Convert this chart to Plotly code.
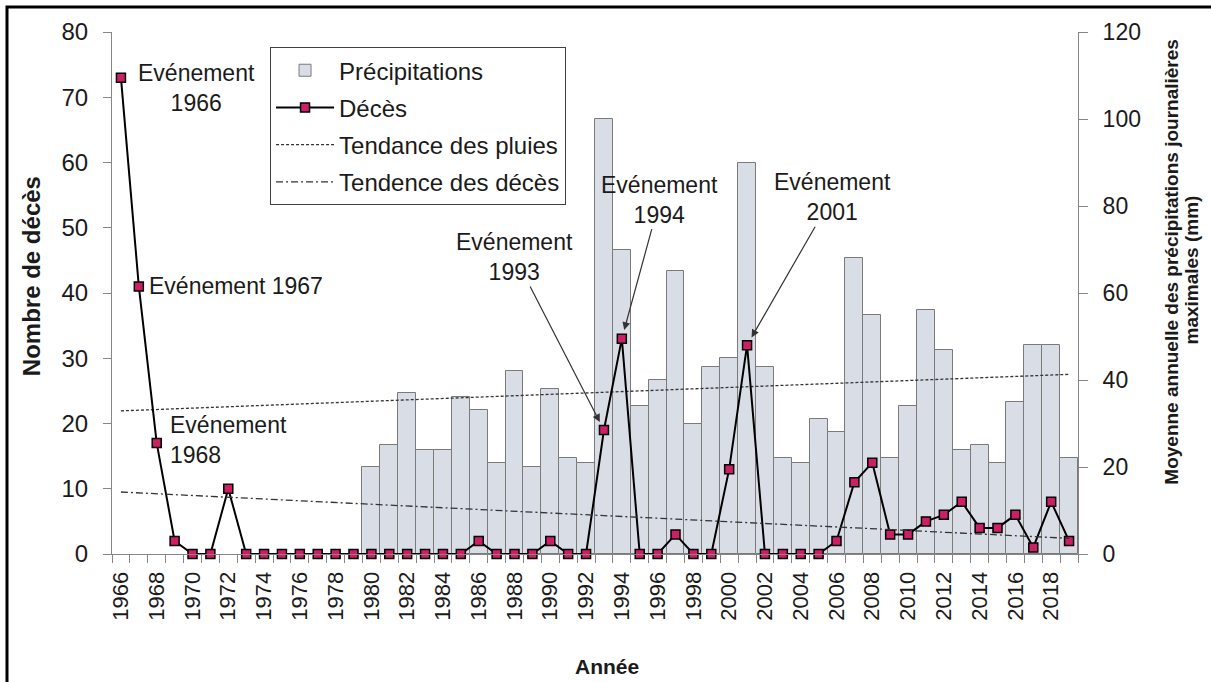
import plotly.graph_objects as go

# Décès par année (axe de gauche)
years = list(range(1966, 2020))
deaths = [73, 41, 17, 2, 0, 0, 10, 0, 0, 0,
          0, 0, 0, 0, 0, 0, 0, 0, 0, 0,
          2, 0, 0, 0, 2, 0, 0, 19, 33, 0,
          0, 3, 0, 0, 13, 32, 0, 0, 0, 0,
          2, 11, 14, 3, 3, 5, 6, 8, 4, 4,
          6, 1, 8, 2]

# Moyenne annuelle des précipitations journalières maximales (mm, axe de droite)
rain_years = list(range(1980, 2020))
rain = [20, 25, 37, 24, 24, 36, 33, 21, 42, 20,
        38, 22, 21, 100, 70, 34, 40, 65, 30, 43,
        45, 90, 43, 22, 21, 31, 28, 68, 55, 22,
        34, 56, 47, 24, 25, 21, 35, 48, 48, 22]

# Droites de tendance (valeurs aux extrémités)
trend_years = [1966, 2019]
rain_trend = [32.9, 41.3]
death_trend = [9.5, 2.4]

# Evénements annotés
event_years = [1966, 1967, 1968, 1993, 1994, 2001]
event_texts = ["Evénement<br>1966", "Evénement 1967", "Evénement<br>1968",
               "Evénement<br>1993", "Evénement<br>1994", "Evénement<br>2001"]

FONT = "Liberation Sans, Arial, sans-serif"
GREY = "#868686"
TXT = "#1a1a1a"

fig = go.Figure()
fig.add_trace(go.Bar(
    x=rain_years, y=rain, name="Précipitations", width=1, yaxis="y",
    marker=dict(color="#d9dde6", line=dict(color="#7a7a7a", width=1)),
    legendgroup="a",
))
fig.add_trace(go.Scatter(
    x=years, y=deaths, name="Décès", mode="lines+markers", yaxis="y2",
    line=dict(color="black", width=2),
    marker=dict(symbol="square", size=9, color="#cc1f66",
                line=dict(color="black", width=1.5)),
    cliponaxis=False, legendgroup="b",
))
fig.add_trace(go.Scatter(
    x=trend_years, y=rain_trend, name="Tendance des pluies", mode="lines",
    yaxis="y", line=dict(color="#333333", width=1.3, dash="3px,2px"),
    legendgroup="c",
))
fig.add_trace(go.Scatter(
    x=trend_years, y=death_trend, name="Tendence des décès", mode="lines",
    yaxis="y2", line=dict(color="#333333", width=1.3, dash="7px,3px,2px,3px"),
    legendgroup="d",
))

fig.update_layout(
    width=1211, height=682,
    margin=dict(l=112, r=133, t=32, b=128),
    plot_bgcolor="white", paper_bgcolor="white",
    font=dict(family=FONT, color=TXT),
    bargap=0,
    showlegend=True,
    legend=dict(
        x=0.1636, y=0.971, xanchor="left", yanchor="top",
        bgcolor="white", bordercolor="#404040", borderwidth=1,
        font=dict(size=24, color=TXT), traceorder="grouped",
        tracegroupgap=3, itemwidth=58,
    ),
    xaxis=dict(
        range=[1965.5, 2019.5], tickmode="array",
        tickvals=years[::2], ticktext=[str(y) for y in years[::2]],
        tickangle=-90, ticks="outside", ticklen=8,
        tickcolor="rgba(0,0,0,0)", tickfont=dict(size=22),
        minor=dict(tickmode="array", tickvals=[y - 0.5 for y in years] + [years[-1] + 0.5],
                   ticks="outside", ticklen=8, tickcolor=GREY, tickwidth=1),
        showline=True, linecolor=GREY, linewidth=1,
        showgrid=False, zeroline=False,
    ),
    yaxis=dict(
        side="right", range=[0, 120], dtick=20, ticks="outside", ticklen=9,
        tickcolor=GREY, showline=True, linecolor=GREY, linewidth=1,
        showgrid=False, zeroline=False, tickfont=dict(size=23),
        ticklabelstandoff=10,
    ),
    yaxis2=dict(
        overlaying="y", side="left", range=[0, 80], dtick=10,
        ticks="outside", ticklen=8, tickcolor=GREY, showline=True,
        linecolor=GREY, linewidth=1, showgrid=False, zeroline=False,
        tickfont=dict(size=24), ticklabelstandoff=10,
    ),
)

# Titres des axes
fig.add_annotation(x=-0.084, y=0.532, xref="paper", yref="paper",
                   xanchor="center", yanchor="middle",
                   text="<b>Nombre de décès</b>", textangle=-90, showarrow=False,
                   font=dict(size=24, color=TXT))
fig.add_annotation(x=1.0973, y=0.560, xref="paper", yref="paper",
                   xanchor="center", yanchor="middle",
                   text="<b>Moyenne annuelle des précipitations journalières</b>",
                   textangle=-90, showarrow=False, font=dict(size=19, color=TXT))
fig.add_annotation(x=1.118, y=0.545, xref="paper", yref="paper",
                   xanchor="center", yanchor="middle",
                   text="<b>maximales (mm)</b>",
                   textangle=-90, showarrow=False, font=dict(size=19, color=TXT))
fig.add_annotation(x=0.512, y=-0.2146, xref="paper", yref="paper",
                   xanchor="center", yanchor="middle",
                   text="<b>Année</b>", showarrow=False,
                   font=dict(size=21, color=TXT))

# Etiquettes des événements
placement = {
    1966: dict(showarrow=False, xanchor="center", xshift=76, yshift=-10),
    1967: dict(showarrow=False, xanchor="left", xshift=8, yshift=0),
    1968: dict(showarrow=False, xanchor="left", xshift=11, yshift=3, align="left"),
    1993: dict(showarrow=True, ax=-89, ay=-173),
    1994: dict(showarrow=True, ax=38, ay=-139),
    2001: dict(showarrow=True, ax=85, ay=-148),
}
for yr, txt in zip(event_years, event_texts):
    opts = placement[yr]
    extra = {}
    if opts["showarrow"]:
        extra = dict(arrowhead=2, arrowsize=1.3, arrowwidth=1.2,
                     arrowcolor="#333333", standoff=9)
    fig.add_annotation(x=yr, y=deaths[years.index(yr)], xref="x", yref="y2",
                       text=txt, font=dict(size=23, color=TXT), **opts, **extra)

# Cadre
fig.add_shape(type="rect", xref="paper", yref="paper",
              x0=-0.1087, x1=1.25, y0=-0.35, y1=1.0479,
              line=dict(color="black", width=3), layer="above")

fig.write_html("out.html", config={"displayModeBar": False},
               post_script="document.body.style.margin='0';")
